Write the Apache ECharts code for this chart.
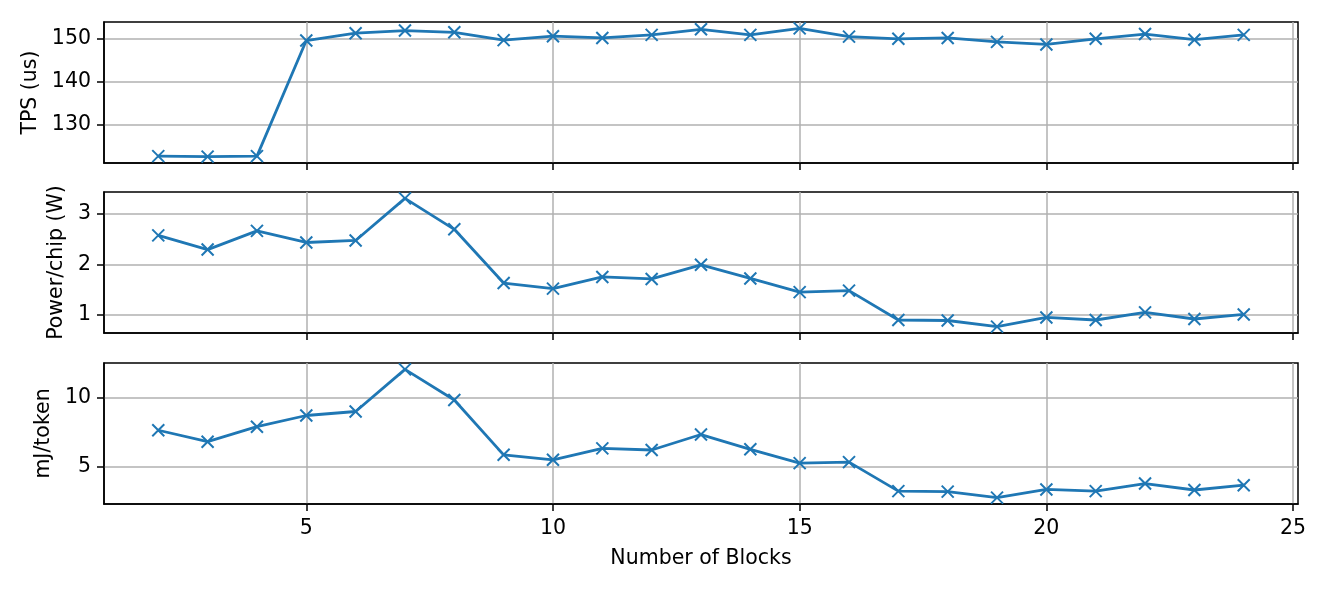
<!DOCTYPE html>
<html><head><meta charset="utf-8">
<script src="https://cdn.jsdelivr.net/npm/echarts@6/dist/echarts.min.js"></script>
<style>html,body{margin:0;padding:0;background:#fff}#c{width:1329px;height:591px}</style>
</head><body><div id="c"></div>
<script>
const blocks = [2,3,4,5,6,7,8,9,10,11,12,13,14,15,16,17,18,19,20,21,22,23,24];
const tps = [122.8,122.7,122.8,149.5,151.2,151.8,151.4,149.6,150.5,150.1,150.8,152.1,150.8,152.3,150.4,149.9,150.1,149.2,148.6,149.9,151.0,149.7,150.8];
const power = [2.57,2.29,2.66,2.43,2.47,3.30,2.69,1.63,1.52,1.75,1.71,1.99,1.72,1.45,1.48,0.90,0.89,0.77,0.95,0.90,1.05,0.92,1.01];
const mj = [7.62,6.79,7.88,8.69,8.98,12.03,9.81,5.84,5.48,6.31,6.19,7.31,6.24,5.24,5.31,3.21,3.17,2.74,3.33,3.21,3.76,3.29,3.64];
const xTicks = [5,10,15,20,25];
const yTicks = [[130,140,150],[1,2,3],[5,10]];
const yNames = ['TPS (us)','Power/chip (W)','mJ/token'];
const xName = 'Number of Blocks';

const FONT = 'DejaVu Sans';
const FS = 20.5;
const C = '#1f77b4';
function lim(a){const mn=Math.min(...a),mx=Math.max(...a),r=mx-mn;return [mn-0.05*r,mx+0.05*r];}
const xl = lim(blocks);
const series = [tps,power,mj];
const tops = [22,192,363], H = 141;
const gaps = [61,35,47];
const chart = echarts.init(document.getElementById('c'),null,{renderer:'canvas'});
const grids=[],xAxes=[],yAxes=[],ser=[];
for(let i=0;i<3;i++){
  grids.push({left:104,right:31,top:tops[i],height:H,show:true,borderColor:'#000',borderWidth:1.5,backgroundColor:'#fff',containLabel:false});
  xAxes.push({type:'value',gridIndex:i,min:xl[0],max:xl[1],
    name: i===2?xName:'', nameLocation:'middle', nameGap:44,
    nameTextStyle:{fontFamily:FONT,fontSize:FS,color:'#000'},
    axisLine:{show:true,onZero:false,lineStyle:{color:'#000',width:1.5}},
    axisTick:{show:true,length:7,inside:false,customValues:xTicks,lineStyle:{color:'#000',width:1.5}},
    axisLabel:{show:i===2,customValues:xTicks,margin:14,fontFamily:FONT,fontSize:FS,color:'#000',showMinLabel:true,showMaxLabel:true},
    splitLine:{show:true,lineStyle:{color:'#b0b0b0',width:1.5}}});
  const yl = lim(series[i]);
  yAxes.push({type:'value',gridIndex:i,min:yl[0],max:yl[1],
    name:yNames[i],nameLocation:'middle',nameRotate:90,nameGap:gaps[i],
    nameTextStyle:{fontFamily:FONT,fontSize:FS,color:'#000'},
    axisLine:{show:true,lineStyle:{color:'#000',width:1.5}},
    axisTick:{show:true,length:7,customValues:yTicks[i],lineStyle:{color:'#000',width:1.5}},
    axisLabel:{customValues:yTicks[i],margin:13,fontFamily:FONT,fontSize:FS,color:'#000'},
    splitLine:{show:true,lineStyle:{color:'#b0b0b0',width:1.5}}});
  ser.push({type:'line',xAxisIndex:i,yAxisIndex:i,data:blocks.map((b,k)=>[b,series[i][k]]),
    symbol:'path://M0 0L10 10M10 0L0 10',symbolSize:12,showSymbol:true,
    lineStyle:{color:C,width:2.8},itemStyle:{color:C,borderColor:C,borderWidth:2},
    clip:false,z:5});
}
chart.setOption({animation:false,backgroundColor:'#fff',grid:grids,xAxis:xAxes,yAxis:yAxes,series:ser});
</script></body></html>
